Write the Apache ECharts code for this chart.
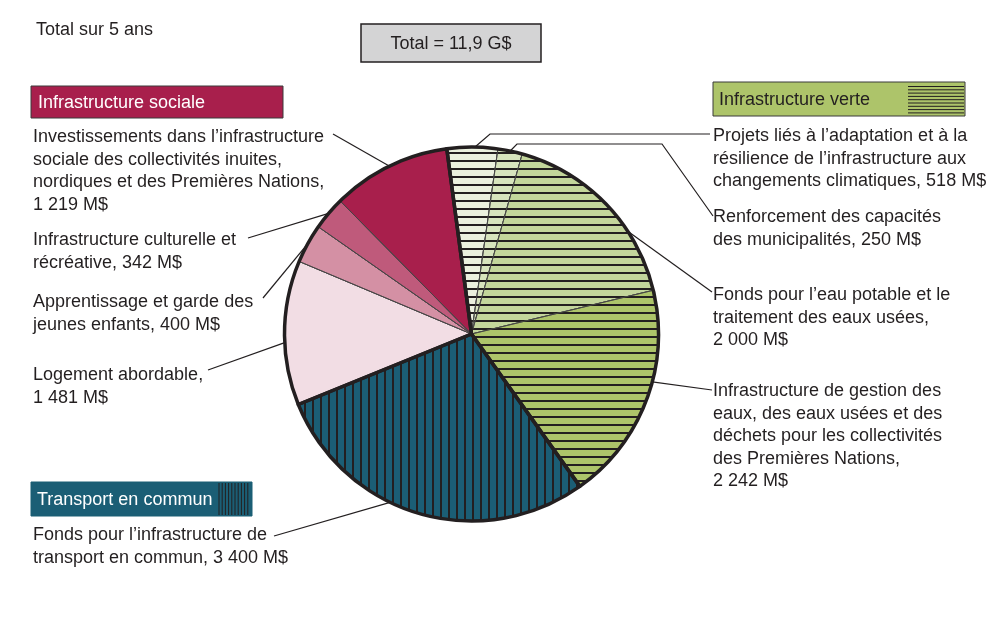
<!DOCTYPE html>
<html>
<head>
<meta charset="utf-8">
<script src="https://cdn.jsdelivr.net/npm/echarts@6/dist/echarts.min.js"></script>
<style>
html,body{margin:0;padding:0;background:#fff;}
#chart{width:1000px;height:628px;}
</style>
</head>
<body>
<div id="chart"></div>
<script>
// ---- data ----
const categories = [
  'Projets liés à l’adaptation et à la\nrésilience de l’infrastructure aux\nchangements climatiques',
  'Renforcement des capacités\ndes municipalités',
  'Fonds pour l’eau potable et le\ntraitement des eaux usées',
  'Infrastructure de gestion des\neaux, des eaux usées et des\ndéchets pour les collectivités\ndes Premières Nations',
  'Fonds pour l’infrastructure de\ntransport en commun',
  'Logement abordable',
  'Apprentissage et garde des\njeunes enfants',
  'Infrastructure culturelle et\nrécréative',
  'Investissements dans l’infrastructure\nsociale des collectivités inuites,\nnordiques et des Premières Nations'
];
const values = [518, 250, 2000, 2242, 3400, 1481, 400, 342, 1219];
const valueOnNewLine = [false, false, true, true, false, true, false, false, true];
const groups = ['Infrastructure verte', 'Transport en commun', 'Infrastructure sociale'];
const groupOf = [0, 0, 0, 0, 1, 2, 2, 2, 2];
const totalTitle = 'Total sur 5 ans';
const totalText = 'Total = 11,9 G$';

// ---- styles ----
const INK = '#231f20';
const FONT = 'Liberation Sans, Arial, sans-serif';
const FS = 18;
const colors = ['#ebf1de', '#d7e4bd', '#c3d69b', '#adc46a', '#1b5e75', '#f2dde4', '#d490a4', '#bf5a7b', '#a81f4c'];
const groupColors = ['#adc46a', '#1b5e75', '#a81f4c'];
const hDecal = { symbol: 'rect', symbolSize: 1, dashArrayX: [1, 0], dashArrayY: [1.5, 5.5], color: INK };
const vDecal = { symbol: 'rect', symbolSize: 1, dashArrayX: [1.5, 5.5], dashArrayY: [1, 0], color: INK };

const CX = 471.5, CY = 334, R = 187;

// label layout (positions of annotation text and leader elbows)
const labelPos = [
  { x: 713, y: 125, via: [[490, 134], [710, 134]], shift: 0.8 },
  { x: 713, y: 206, via: [[517, 144], [662, 144], [713, 216]], shift: 0 },
  { x: 713, y: 284, via: [[712, 292]], shift: 10.6 },
  { x: 713, y: 380, via: [[712, 390]], shift: -5.7 },
  { x: 33, y: 524, via: [[274, 536]], shift: 9.6 },
  { x: 33, y: 364, via: [[208, 370]], shift: -3 },
  { x: 33, y: 291, via: [[263, 298]], shift: 0 },
  { x: 33, y: 229, via: [[248, 238]], shift: 0 },
  { x: 33, y: 126, via: [[333, 134]], shift: 0 }
];

function fmt(v) {
  return String(v).replace(/\B(?=(\d{3})+(?!\d))/g, ' ') + ' M$';
}

const pieData = values.map((v, i) => ({
  name: categories[i],
  value: v,
  itemStyle: {
    color: colors[i],
    decal: i < 4 ? hDecal : (i === 4 ? vDecal : { symbol: 'none' })
  }
}));

const groupTotals = groups.map((g, gi) => values.reduce((s, v, i) => s + (groupOf[i] === gi ? v : 0), 0));

const chart = echarts.init(document.getElementById('chart'), null, { renderer: 'canvas' });

function hatchLines(x0, x1, y0, y1, step, horizontal) {
  const out = [];
  if (horizontal) {
    for (let y = y0; y <= y1 + 0.01; y += step) {
      out.push({ type: 'line', shape: { x1: x0, y1: y, x2: x1, y2: y }, style: { stroke: INK, lineWidth: 1 }, silent: true });
    }
  } else {
    for (let x = x0; x <= x1 + 0.01; x += step) {
      out.push({ type: 'line', shape: { x1: x, y1: y0, x2: x, y2: y1 }, style: { stroke: INK, lineWidth: 1 }, silent: true });
    }
  }
  return out;
}

const font = FS + 'px ' + FONT;
const graphics = [
  { type: 'text', x: 36, y: 30, style: { text: totalTitle, font: font, fill: INK, align: 'left', verticalAlign: 'middle' } },
  { type: 'rect', shape: { x: 361, y: 24, width: 180, height: 38 }, style: { fill: '#d4d4d5', stroke: INK, lineWidth: 1.5 } },
  { type: 'text', x: 451, y: 44, style: { text: totalText, font: font, fill: INK, align: 'center', verticalAlign: 'middle' } },
  // social box
  { type: 'rect', shape: { x: 31, y: 86, width: 252, height: 32 }, style: { fill: groupColors[2], stroke: '#3a3a3a', lineWidth: 1 } },
  { type: 'text', x: 38, y: 103, style: { text: groups[2], font: font, fill: '#fff', align: 'left', verticalAlign: 'middle' } },
  // green box
  { type: 'rect', shape: { x: 713, y: 82, width: 252, height: 34 }, style: { fill: groupColors[0], stroke: '#3a3a3a', lineWidth: 1 } },
  { type: 'text', x: 719, y: 100, style: { text: groups[0], font: font, fill: INK, align: 'left', verticalAlign: 'middle' } },
  ...hatchLines(908, 964, 86.5, 113, 3.3, true),
  // transport box
  { type: 'rect', shape: { x: 31, y: 482, width: 221, height: 34 }, style: { fill: groupColors[1], stroke: groupColors[1], lineWidth: 1 } },
  { type: 'text', x: 37, y: 500, style: { text: groups[1], font: font, fill: '#fff', align: 'left', verticalAlign: 'middle' } },
  ...hatchLines(219, 250, 483, 515, 3.2, false)
];

chart.setOption({
  animation: false,
  backgroundColor: '#fff',
  graphic: graphics,
  series: [
    {
      type: 'pie',
      center: [CX, CY],
      radius: [0, R],
      startAngle: 97.6,
      clockwise: true,
      avoidLabelOverlap: false,
      silent: true,
      emphasis: { disabled: true },
      itemStyle: { borderColor: '#444', borderWidth: 0.8 },
      label: {
        show: true,
        position: 'outside',
        color: INK,
        fontFamily: FONT,
        fontSize: FS,
        lineHeight: 22.5,
        formatter: p => p.name + ',' + (valueOnNewLine[p.dataIndex] ? '\n' : ' ') + fmt(p.value)
      },
      labelLine: { show: true, lineStyle: { color: INK, width: 1.2 } },
      labelLayout: function (params) {
        const i = params.dataIndex;
        const lp = labelPos[i];
        const p0 = params.labelLinePoints ? params.labelLinePoints[0] : [CX, CY - R];
        const a = Math.atan2(p0[1] - CY, p0[0] - CX) + lp.shift * Math.PI / 180;
        const edge = [CX + R * Math.cos(a), CY + R * Math.sin(a)];
        return {
          x: lp.x,
          y: lp.y,
          align: 'left',
          verticalAlign: 'top',
          labelLinePoints: [edge].concat(lp.via)
        };
      },
      data: pieData
    },
    {
      type: 'pie',
      center: [CX, CY],
      radius: [0, R],
      startAngle: 97.6,
      clockwise: true,
      silent: true,
      emphasis: { disabled: true },
      label: { show: false },
      labelLine: { show: false },
      itemStyle: { color: 'rgba(0,0,0,0)', borderColor: INK, borderWidth: 3.5 },
      data: groups.map((g, gi) => ({ name: g, value: groupTotals[gi] }))
    }
  ]
});
</script>
</body>
</html>
